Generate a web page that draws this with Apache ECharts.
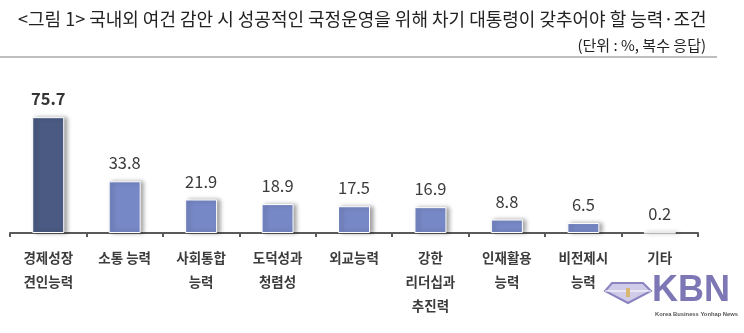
<!DOCTYPE html>
<html><head><meta charset="utf-8">
<script src="https://cdn.jsdelivr.net/npm/echarts@6/dist/echarts.min.js"></script>
<style>html,body{margin:0;padding:0;background:#fff}#c{width:744px;height:333px}</style>
</head><body><div id="c"></div>
<script>
const titleText = '<그림 1> 국내외 여건 감안 시 성공적인 국정운영을 위해 차기 대통령이 갖추어야 할 능력·조건';
const unitText = '(단위 : %, 복수 응답)';
const categories = ['경제성장\n견인능력', '소통 능력', '사회통합\n능력', '도덕성과\n청렴성', '외교능력', '강한\n리더십과\n추진력', '인재활용\n능력', '비전제시\n능력', '기타'];
const values = [75.7, 33.8, 21.9, 18.9, 17.5, 16.9, 8.8, 6.5, 0.2];
const highlightIndex = 0;

const FONT = '"Noto Sans CJK KR", "Noto Sans", sans-serif';
const chart = echarts.init(document.getElementById('c'), null, {renderer: 'canvas'});
chart.setOption({
  animation: false,
  backgroundColor: '#fff',
  grid: {left: 10, right: 46, top: 80, bottom: 100, containLabel: false},
  xAxis: {
    type: 'category', data: categories,
    axisLine: {lineStyle: {color: '#5a5a5a', width: 2}},
    axisTick: {show: true, length: 4, lineStyle: {color: '#5a5a5a', width: 2}},
    axisLabel: {interval: 0, margin: 13, color: '#3c3c3c', fontFamily: FONT, fontSize: 13.5, fontWeight: 'bold', lineHeight: 24}
  },
  yAxis: {type: 'value', min: 0, max: 100, show: false, splitLine: {show: false}},
  series: [{
    type: 'bar', barWidth: 32,
    data: values.map((v, i) => ({
      value: v,
      itemStyle: {color: i === highlightIndex ? '#4a5a82' : '#7788c6'},
      label: i === highlightIndex ? {fontWeight: 'bold', color: '#333'} : {}
    })),
    itemStyle: {borderColor: '#fff', borderWidth: 1, shadowColor: 'rgba(0,0,0,0.35)', shadowBlur: 4, shadowOffsetX: 3, shadowOffsetY: 0},
    label: {show: true, position: 'top', distance: 10, color: '#3a3a3a', fontFamily: FONT, fontSize: 16.5}
  }],
  graphic: [
    {type: 'text', left: 18, top: 10, style: {text: titleText, fontFamily: FONT, fontSize: 18, fill: '#222'}},
    {type: 'text', right: 38, top: 38, style: {text: unitText, fontFamily: FONT, fontSize: 15, fill: '#222'}},
    {type: 'line', shape: {x1: 0, y1: 57, x2: 717, y2: 57}, style: {stroke: '#a8a8a8', lineWidth: 1.5}},
    {type: 'polygon', shape: {points: [[612, 283], [643, 283], [651, 291], [628, 303], [605, 291]]}, style: {fill: '#cfcbe8', stroke: '#8a84c0', lineWidth: 2}},
    {type: 'polyline', shape: {points: [[605, 291], [651, 291]]}, style: {stroke: '#fff', lineWidth: 1}},
    {type: 'rect', shape: {x: 626, y: 288, width: 4, height: 9}, style: {fill: '#d8b870'}},
    {type: 'text', left: 652, top: 273, style: {text: 'KBN', fontFamily: '"Liberation Sans", Arial, sans-serif', fontSize: 36, fontWeight: 'bold', fill: '#7d77b5'}},
    {type: 'text', left: 655, top: 311, style: {text: 'Korea Business Yonhap News', fontFamily: '"Liberation Sans", Arial, sans-serif', fontSize: 5.8, fontWeight: 'bold', fill: '#555'}}
  ]
});
</script></body></html>
